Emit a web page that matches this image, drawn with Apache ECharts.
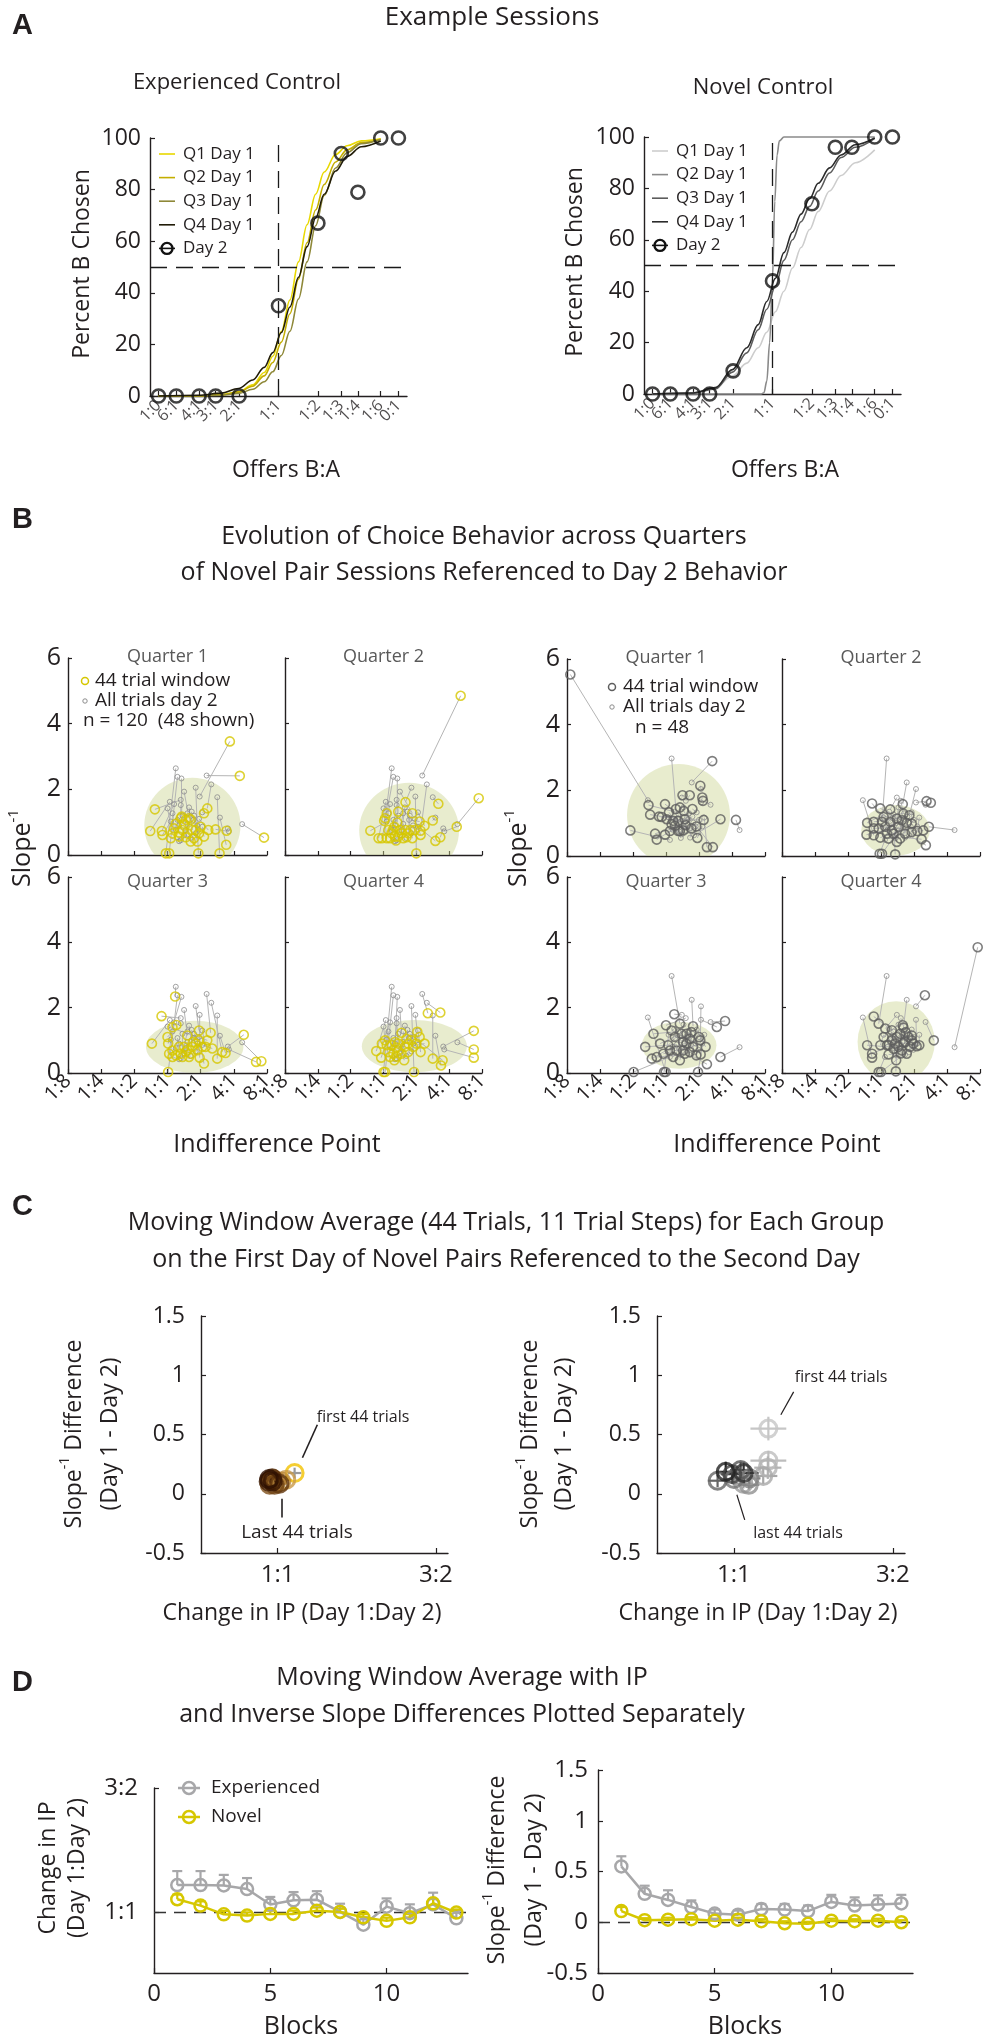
<!DOCTYPE html>
<html>
<head>
<meta charset="utf-8">
<title>Choice behavior figure</title>
<script src="https://cdn.jsdelivr.net/npm/echarts@6.0.0/dist/echarts.min.js"></script>
<style>
html,body{margin:0;padding:0;background:#fff;}
#chart{width:995px;height:2040px;}
</style>
</head>
<body>
<div id="chart"></div>
<script>
// ================= DATA =================
// ---- Panel A: example sessions ----
const offerLabels = ['1:0','6:1','4:1','3:1','2:1','1:1','1:2','1:3','1:4','1:6','0:1'];
const offerPos = [-2.1,-1.79,-1.39,-1.1,-0.69,0,0.69,1.1,1.39,1.79,2.1];
const expDay2 = [0,0,0,0,0,35,67,94,79,100,100];
const novDay2 = [0,0,0,0,9,44,74,96,96,100,100];
const curveX = [-2.1,-1.4,-1.0,-0.7,-0.45,-0.25,-0.1,0.05,0.2,0.35,0.5,0.65,0.8,1.0,1.2,1.45,1.79];
const expQ1 = [0,0.1,0.5,1.6,4.3,9.1,15.4,25,37.2,52,66.4,78.2,86.8,93.6,97,98.9,99.7];
const expQ2 = [0,0.1,0.5,1.5,3.8,7.8,13,20.9,31.9,45.3,59.4,72.1,82,90.7,95.4,98.2,99.5];
const expQ3 = [0,0.1,0.3,1,2.6,5.5,9.4,15.7,25.1,37.6,52,66,77.7,88.4,94.3,97.8,99.4];
const expQ4 = [0,0.3,1.1,2.9,6.2,11.1,16.8,24.6,34.5,46,57.9,69,78.2,87.2,92.8,96.6,98.8];
const novQ1 = [0,0.5,2.5,7,12,18,24,32,40,49,57,64,71,79,85,90,95];
const novQ3 = [0,0.3,2,8.5,16,25,33,42,52,60,67,73,79,86,92,96,99.5];
const novQ4 = [0,0.4,2.5,9.5,18,27,36,45,55,63,70,76,82,88,93,97,99.6];
const novQ2X = [-2.1,-0.2,-0.15,-0.1,-0.05,0,0.04,0.08,0.12,0.2,1.79];
const novQ2 = [0,0,0.5,5,20,45,75,93,98.5,100,100];
const curveNames = ['Q1 Day 1','Q2 Day 1','Q3 Day 1','Q4 Day 1'];

// ---- Panel B: indifference point (log2) vs inverse slope ----
const ipTickVals = [-3,-2,-1,0,1,2,3];
const ipTickLabels = ['1:8','1:4','1:2','1:1','2:1','4:1','8:1'];
const day2Exp = [[0.25,2.64],[0.3,2.38],[0.42,2.33],[1.18,2.42],[1.32,2.15],[0.85,2.05],[0.97,1.78],[1.5,1.76],[0.4,1.68],[0.07,1.62],
 [0.2,1.55],[0.5,1.93],[1.58,1.14],[1.82,0.81],[2.25,0.94],[1.85,0.72],[0.73,1.32],[1.05,1.3],[0.1,1.02],[0.35,0.42],
 [0.4,0.45],[0.95,1.1],[0.6,1.27],[0.15,1.27],[0.4,1.52],[0.78,1.07],[0.55,0.76],[0.85,0.66],[1.05,0.86],[0.25,0.76],
 [0.7,0.52],[0.3,1.07],[0.0,1.42],[0.6,0.95],[0.45,1.2],[0.9,0.9],[0.65,1.45],[0.35,0.9],[0.8,1.2],[0.5,0.6]];
const winExpQ1 = [[-0.05,0.05],[0.05,0.05],[0.43,1.17],[2.18,2.41],[1.2,1.42],[0.93,0.05],[1.88,3.46],[1.57,0.05],[-0.38,1.39],[-0.52,0.73],
 [-0.17,0.73],[0.65,1.12],[1.77,0.31],[1.78,0.74],[2.91,0.53],[1.45,0.78],[0.7,1.07],[1.1,1.27],[-0.15,0.61],[0.35,0.56],
 [0.1,0.51],[1.23,0.76],[0.55,1.07],[0.2,0.81],[0.4,1.12],[1.0,0.86],[0.55,0.54],[0.9,0.41],[1.1,0.56],[0.25,0.95],
 [0.7,0.41],[0.35,0.68],[0.15,0.66],[0.6,0.66],[0.5,0.95],[0.95,0.66],[0.75,0.76],[0.45,0.76],[0.85,0.76],[0.8,0.51]];
const winExpQ2 = [[0.05,1.12],[0.1,1.27],[0.42,0.99],[2.35,4.85],[1.13,0.74],[0.67,1.61],[1.0,0.05],[1.67,1.56],[0.45,1.32],[-0.15,0.51],
 [-0.05,0.51],[0.88,1.27],[1.5,1.05],[1.73,0.54],[2.9,1.73],[2.23,0.86],[0.82,0.76],[1.25,0.89],[-0.4,0.74],[0.38,0.44],
 [0.2,0.51],[1.13,0.61],[0.5,0.76],[0.02,1.04],[0.28,0.76],[1.1,1.02],[0.6,0.51],[0.88,0.51],[1.58,0.43],[0.15,0.76],
 [0.7,0.54],[0.25,0.66],[0.1,0.51],[0.67,0.76],[0.33,0.86],[0.95,0.76],[0.55,0.66],[0.35,0.56],[0.75,0.66],[0.45,0.56]];
const winExpQ3 = [[0.23,2.34],[0.02,0.03],[0.15,1.4],[1.3,1.23],[1.65,0.64],[0.95,1.3],[0.97,0.47],[1.5,0.44],[-0.18,1.74],[-0.47,0.9],
 [0.02,0.9],[0.6,1.15],[1.75,0.61],[2.3,1.17],[2.83,0.36],[2.67,0.34],[0.77,0.95],[1.15,0.8],[0.05,0.59],[0.15,0.49],
 [0.25,0.54],[1.1,0.29],[0.5,0.8],[0.0,1.1],[0.27,1.47],[0.85,0.9],[0.4,0.59],[0.9,0.7],[1.35,0.75],[0.15,0.69],
 [0.65,0.49],[0.35,0.8],[1.2,1.0],[0.55,0.64],[0.45,0.49],[1.05,0.8],[0.75,0.8],[0.7,0.59],[0.95,1.0],[0.6,0.7]];
const winExpQ4 = [[0.0,0.03],[0.05,0.03],[0.33,0.39],[1.35,1.83],[1.73,1.85],[0.93,0.03],[1.03,1.26],[1.5,0.44],[0.45,0.69],[-0.22,0.67],
 [-0.05,0.9],[0.55,1.23],[1.75,0.23],[2.75,1.29],[2.75,0.72],[2.75,0.47],[0.75,0.9],[1.13,0.64],[-0.07,0.47],[0.2,0.49],
 [0.3,0.59],[1.1,1.1],[0.65,0.8],[0.1,0.85],[0.35,0.95],[0.85,1.0],[0.63,0.39],[0.9,0.8],[1.25,0.9],[0.15,0.64],
 [0.75,0.64],[0.25,0.85],[0.05,1.0],[0.55,0.59],[0.45,0.9],[1.0,0.9],[0.7,1.05],[0.4,0.78],[1.8,0.39],[0.4,0.5]];
const day2Nov = [[0.17,2.97],[0.78,2.24],[1.06,2.04],[0.48,1.78],[0.6,1.68],[1.06,1.63],[1.35,1.56],[1.16,1.17],[2.23,0.79],[0.53,1.48],
 [0.93,1.33],[0.38,1.27],[0.68,1.12],[0.83,1.02],[0.33,0.87],[0.63,0.76],[0.48,0.66],[0.73,0.56],[0.98,0.71],[0.28,1.07],
 [0.08,1.17],[0.85,0.63],[0.12,0.49],[0.45,1.0],[0.55,0.9],[0.7,1.3],[0.25,1.35],[0.9,0.9],[0.4,0.75],[0.6,1.05],
 [0.2,0.8],[0.75,0.85],[1.0,1.1],[0.35,1.15],[0.5,1.2],[0.65,0.95],[0.8,1.2],[-0.55,1.7],[0.45,0.55],[1.1,0.9]];
const winNovQ1 = [[0.3,1.43],[1.4,2.89],[1.04,2.14],[0.5,1.85],[0.72,1.85],[1.1,1.78],[1.12,1.68],[1.24,0.27],[2.12,1.1],[0.42,1.48],
 [0.8,1.43],[-0.03,1.58],[0.54,1.37],[1.42,0.27],[-0.33,0.68],[0.6,0.94],[0.42,0.76],[0.77,0.84],[1.65,1.12],[0.09,1.33],
 [-0.48,1.26],[0.92,0.9],[-1.08,0.78],[0.37,1.07],[0.52,0.78],[0.57,1.12],[-0.53,1.55],[1.14,1.1],[0.12,0.76],[0.22,1.07],
 [-0.28,0.5],[0.27,0.92],[0.02,1.12],[-0.21,1.2],[-0.13,1.19],[0.37,0.76],[-0.03,0.65],[-2.9,5.53],[0.17,0.97],[0.95,0.55]];
const winNovQ2 = [[0.03,1.04],[0.66,1.58],[0.86,1.24],[0.28,1.42],[0.68,1.29],[1.38,1.67],[1.51,1.62],[1.1,0.76],[1.45,0.89],[0.48,1.14],
 [0.93,0.99],[-0.02,1.45],[0.63,1.09],[0.78,1.01],[-0.22,0.84],[0.53,0.89],[0.48,0.43],[1.23,0.51],[1.28,0.78],[0.28,1.04],
 [-0.27,1.6],[1.36,0.33],[-0.04,0.07],[0.33,0.78],[0.38,0.68],[0.08,1.19],[-0.42,1.01],[0.93,0.73],[0.43,0.05],[0.13,0.89],
 [-0.44,0.65],[0.73,0.68],[0.58,0.53],[-0.07,0.84],[0.18,0.68],[0.03,0.07],[-0.22,1.04],[-0.22,0.63],[0.23,0.53],[-0.02,0.56]];
const winNovQ3 = [[0.42,1.51],[0.82,1.43],[1.04,1.0],[0.25,1.8],[0.0,1.46],[1.54,1.41],[1.79,1.59],[0.97,0.03],[1.65,0.49],[0.47,1.2],
 [1.2,0.8],[-0.38,1.2],[0.62,0.9],[1.05,0.57],[-0.63,0.8],[0.72,0.64],[0.42,0.39],[1.24,0.27],[0.92,0.54],[0.07,0.85],
 [-0.06,0.03],[0.82,0.8],[-0.98,0.03],[0.52,0.95],[0.52,0.69],[0.77,1.25],[0.17,1.3],[0.72,1.05],[0.22,0.49],[0.27,1.1],
 [-0.43,0.44],[0.57,0.59],[1.0,1.1],[-0.18,0.9],[0.32,0.69],[0.12,0.69],[0.62,1.2],[-0.01,0.03],[-0.28,0.49],[-0.08,0.59]];
const winNovQ4 = [[-0.07,1.51],[0.68,1.39],[1.33,2.38],[0.13,1.36],[0.66,1.46],[1.08,0.82],[1.6,1.0],[1.16,0.85],[2.93,3.85],[0.33,1.31],
 [0.93,1.0],[-0.22,1.73],[0.58,1.2],[0.83,1.1],[-0.27,0.59],[0.63,0.69],[0.45,0.05],[0.78,0.59],[0.98,0.9],[0.18,0.85],
 [-0.02,0.85],[0.88,0.8],[-0.07,0.03],[0.43,0.9],[0.53,0.8],[0.73,0.95],[0.08,1.1],[0.68,0.92],[0.46,0.39],[0.48,1.1],
 [-0.42,0.85],[0.38,0.74],[0.93,1.15],[0.33,1.0],[0.23,0.85],[0.6,0.6],[0.75,1.25],[-0.27,0.47],[0.23,0.57],[0.0,0.03]];
// day-2 spread ellipses: [centerIP, centerSlope, radiusIP, radiusSlope]
const ellExp = [[0.75,0.9,1.45,1.45],[0.78,0.75,1.52,1.45],[0.82,0.8,1.47,0.8],[0.94,0.82,1.6,0.8]];
const ellNov = [[0.38,1.24,1.56,1.56],[0.44,0.78,1.04,0.77],[0.4,0.85,1.13,0.72],[0.46,0.95,1.17,1.25]];

// ---- Panel C (left group, moving window) ----
const cNovIp = [0.063,0.032,0.014,-0.004,-0.016,-0.026,-0.029,-0.011,0.007,-0.02,-0.033,-0.018,-0.031];
const cNovSlope = [0.175,0.118,0.104,0.104,0.124,0.112,0.076,0.076,0.085,0.13,0.104,0.104,0.124];
const cNovIpErr = [0.025,0.02,0.02,0.02,0.02,0.02,0.02,0.02,0.02,0.02,0.02,0.02,0.02];
const cNovSlopeErr = [0.045,0.04,0.04,0.04,0.04,0.04,0.04,0.04,0.04,0.04,0.04,0.04,0.04];

// ---- Panel D (and C right): per-block moving window averages ----
const blocks = [1,2,3,4,5,6,7,8,9,10,11,12,13];
const ipExp = [0.127,0.127,0.125,0.108,0.035,0.055,0.058,0.0,-0.06,0.025,-0.006,0.036,-0.03];
const ipExpErr = [0.066,0.066,0.05,0.052,0.036,0.039,0.04,0.039,0.035,0.039,0.042,0.055,0.036];
const ipNov = [0.06,0.03,-0.011,-0.017,-0.009,-0.009,0.006,0.0,-0.025,-0.042,-0.025,0.041,-0.003];
const ipNovErr = [0.022,0.02,0.015,0.015,0.015,0.015,0.015,0.015,0.015,0.015,0.015,0.02,0.015];
const slExp = [0.55,0.28,0.22,0.15,0.085,0.075,0.13,0.125,0.11,0.2,0.165,0.175,0.185];
const slExpErr = [0.1,0.08,0.095,0.065,0.04,0.04,0.05,0.055,0.055,0.07,0.08,0.09,0.085];
const slNov = [0.11,0.02,0.025,0.03,0.015,0.025,0.01,-0.01,-0.015,0.015,0.01,0.015,0.0];
const slNovErr = [0.04,0.02,0.02,0.02,0.02,0.02,0.02,0.02,0.02,0.02,0.02,0.02,0.02];
const ipRatioTicks = [0, 0.585];
const ipRatioLabels = ['1:1','3:2'];

// ================= STYLE / BUILD =================
const FONT = '"Open Sans", Lato, sans-serif';
const INK = '#231f20';
const expCurveColors = ['#e8d800','#c4ae00','#8e8838','#211c08'];
const novCurveColors = ['#cdcdcd','#8a8a8a','#5c5c5c','#2b2b2b'];
const YEL = '#d6c700';
const GRY = '#a7a7a9';
const cNovColors = ['#f2c200','#c99a4a','#bb8a3c','#ad7b32','#9e6c29','#8f5e21','#80501a','#714314','#62370e','#532b09','#452105','#381703','#2c0f01'];
const cExpColors = ['#c6c6c6','#bdbdbd','#b3b3b3','#a8a8a8','#9c9c9c','#909090','#838383','#767676','#666666','#555555','#444444','#333333','#222222'];

const grid = [], xAxis = [], yAxis = [], series = [], graphic = [];

function lab(vals, labels) {
  return function (v) {
    let b = 0;
    for (let i = 1; i < vals.length; i++) if (Math.abs(vals[i] - v) < Math.abs(vals[b] - v)) b = i;
    return labels[b];
  };
}
function mkAxis(o) {
  const a = {
    type: 'value', gridIndex: o.gi, min: o.min, max: o.max,
    axisLine: {show: true, onZero: false, lineStyle: {color: INK, width: 1.4}},
    axisTick: {show: true, inside: true, length: o.tickLen || 5, lineStyle: {color: INK, width: 1.2}},
    splitLine: {show: false},
    axisLabel: {show: o.showLabel !== false, color: INK, fontFamily: FONT, fontSize: o.fontSize || 23,
      margin: o.margin || 8, rotate: o.rotate || 0, hideOverlap: false,
      showMinLabel: true, showMaxLabel: o.showMax !== false}
  };
  if (o.interval != null) a.interval = o.interval;
  if (o.customValues) { a.axisTick.customValues = o.customValues; a.axisLabel.customValues = o.customValues; }
  if (o.formatter) a.axisLabel.formatter = o.formatter;
  return a;
}
function addGrid(box, xo, yo) {
  const gi = grid.length;
  grid.push({left: box[0], top: box[1], width: box[2], height: box[3], containLabel: false, outerBoundsMode: 'none'});
  xo.gi = gi; yo.gi = gi;
  xAxis.push(mkAxis(xo)); yAxis.push(mkAxis(yo));
  return gi;
}
function txt(x, y, text, size, o) {
  o = o || {};
  const al = o.align || 'center';
  return {type: 'text', x: x, y: y, rotation: o.rot || 0, silent: true, z: 50,
    style: {text: text, fill: o.color || INK, font: (o.weight || 'normal') + ' ' + size + 'px ' + (o.family || FONT),
      textAlign: al, align: al, textVerticalAlign: 'middle', verticalAlign: 'middle'}};
}
function supTxt(x, y, before, after, size, rot) {
  return {type: 'text', x: x, y: y, rotation: rot || 0, silent: true, z: 50,
    style: {text: '{m|' + before + '}{s|-1}{m|' + after + '}', align: 'center', textAlign: 'center',
      verticalAlign: 'middle', textVerticalAlign: 'middle',
      rich: {m: {fontSize: size, fontFamily: FONT, fill: INK, lineHeight: size + 8},
             s: {fontSize: Math.round(size * 0.6), fontFamily: FONT, fill: INK, verticalAlign: 'top', lineHeight: Math.round(size * 0.6)}}}};
}
function line(x1, y1, x2, y2, color, w) {
  return {type: 'line', silent: true, z: 50, shape: {x1: x1, y1: y1, x2: x2, y2: y2}, style: {stroke: color, lineWidth: w}};
}
function ring(cx, cy, r, color, w) {
  return {type: 'circle', silent: true, z: 51, shape: {cx: cx, cy: cy, r: r}, style: {fill: 'none', stroke: color, lineWidth: w}};
}

// ---------- Panel A ----------
function panelA(box, curves, day2, colors) {
  const gi = addGrid(box,
    {min: -2.25, max: 2.25, customValues: offerPos, showLabel: false},
    {min: 0, max: 100, interval: 20, fontSize: 23, margin: 9});
  // offer-ratio tick labels, anchored at each tick on the x axis
  series.push({type: 'scatter', xAxisIndex: gi, yAxisIndex: gi, silent: true, clip: false, z: 5,
    symbol: 'circle', symbolSize: 0,
    data: offerPos.map(function (x) { return [x, 0]; }),
    label: {show: true, position: 'bottom', distance: 7, rotate: 45, align: 'right', verticalAlign: 'middle',
      fontSize: 16, fontFamily: FONT, color: INK,
      formatter: function (p) { return offerLabels[p.dataIndex]; }},
    labelLayout: {hideOverlap: false}});
  curves.forEach(function (c, k) {
    series.push({type: 'line', name: curveNames[k], xAxisIndex: gi, yAxisIndex: gi,
      data: c.x.map(function (x, i) { return [x, c.y[i]]; }),
      symbol: 'none', smooth: 0.35, smoothMonotone: 'x', clip: false, z: 2, emphasis: {disabled: true},
      lineStyle: {color: colors[k], width: 1.6}});
  });
  series.push({type: 'scatter', name: 'Day 2', xAxisIndex: gi, yAxisIndex: gi,
    data: offerPos.map(function (x, i) { return [x, day2[i]]; }),
    symbol: 'circle', symbolSize: 13, clip: false, z: 4, emphasis: {disabled: true},
    itemStyle: {color: 'rgba(0,0,0,0)', borderColor: '#111', borderWidth: 2.6},
    markLine: {silent: true, symbol: 'none', label: {show: false}, animation: false,
      lineStyle: {type: [17, 9], color: '#1a1a1a', width: 1.3},
      data: [{yAxis: 50}, [{coord: [0, 0]}, {coord: [0, 100]}]]}});
}
panelA([150, 138, 257, 258], [
  {x: curveX, y: expQ1}, {x: curveX, y: expQ2}, {x: curveX, y: expQ3}, {x: curveX, y: expQ4}], expDay2, expCurveColors);
panelA([644, 137, 257, 257], [
  {x: curveX, y: novQ1}, {x: novQ2X, y: novQ2}, {x: curveX, y: novQ3}, {x: curveX, y: novQ4}], novDay2, novCurveColors);

// ---------- Panel B ----------
function ellRender(params, api) {
  const c = api.coord([api.value(0), api.value(1)]);
  const s = api.size([api.value(2), api.value(3)]);
  return {type: 'circle', x: c[0], y: c[1], scaleY: s[1] / s[0], shape: {cx: 0, cy: 0, r: s[0]},
    style: {fill: 'rgba(203,212,146,0.45)'}};
}
function linkRender(params, api) {
  const a = api.coord([api.value(0), api.value(1)]);
  const b = api.coord([api.value(2), api.value(3)]);
  return {type: 'line', shape: {x1: a[0], y1: a[1], x2: b[0], y2: b[1]}, style: {stroke: '#b5b5b5', lineWidth: 1}};
}
function panelB(box, showX, showY, ell, win, day2, winColor) {
  const gi = addGrid(box,
    {min: -3, max: 3, interval: 1, showLabel: showX, formatter: lab(ipTickVals, ipTickLabels), rotate: 45, fontSize: 20, margin: 5, tickLen: 4},
    {min: 0, max: 6, interval: 2, showLabel: showY, fontSize: 25, margin: 7, tickLen: 4});
  series.push({type: 'custom', xAxisIndex: gi, yAxisIndex: gi, clip: true, z: 1, silent: true,
    data: [ell], encode: {x: 0, y: 1}, renderItem: ellRender});
  series.push({type: 'custom', xAxisIndex: gi, yAxisIndex: gi, clip: false, z: 2, silent: true,
    data: win.map(function (w, i) { return [w[0], w[1], day2[i][0], day2[i][1]]; }),
    encode: {x: [0, 2], y: [1, 3]}, renderItem: linkRender});
  series.push({type: 'scatter', xAxisIndex: gi, yAxisIndex: gi, data: day2, symbol: 'circle', symbolSize: 5,
    clip: false, z: 3, silent: true, itemStyle: {color: 'rgba(0,0,0,0)', borderColor: '#8c8c8c', borderWidth: 1}});
  series.push({type: 'scatter', xAxisIndex: gi, yAxisIndex: gi, data: win, symbol: 'circle', symbolSize: 9,
    clip: false, z: 4, silent: true, itemStyle: {color: 'rgba(0,0,0,0)', borderColor: winColor, borderWidth: 1.6}});
}
panelB([68, 658, 199, 197], false, true, ellExp[0], winExpQ1, day2Exp, YEL);
panelB([285, 658, 197, 197], false, false, ellExp[1], winExpQ2, day2Exp, YEL);
panelB([68, 877, 199, 196], true, true, ellExp[2], winExpQ3, day2Exp, YEL);
panelB([285, 877, 197, 196], true, false, ellExp[3], winExpQ4, day2Exp, YEL);
panelB([567, 659, 198, 197], false, true, ellNov[0], winNovQ1, day2Nov, '#5e5e5e');
panelB([782, 659, 198, 197], false, false, ellNov[1], winNovQ2, day2Nov, '#5e5e5e');
panelB([567, 877, 198, 196], true, true, ellNov[2], winNovQ3, day2Nov, '#5e5e5e');
panelB([782, 877, 198, 196], true, false, ellNov[3], winNovQ4, day2Nov, '#5e5e5e');

// ---------- Panel C ----------
function crossRender(colors) {
  return function (params, api) {
    const x = api.value(0), y = api.value(1), ex = api.value(2), ey = api.value(3);
    const l = api.coord([x - ex, y]), r = api.coord([x + ex, y]);
    const t = api.coord([x, y + ey]), b = api.coord([x, y - ey]);
    const col = colors[params.dataIndex];
    return {type: 'group', children: [
      {type: 'line', shape: {x1: l[0], y1: l[1], x2: r[0], y2: r[1]}, style: {stroke: col, lineWidth: 2.2}},
      {type: 'line', shape: {x1: t[0], y1: t[1], x2: b[0], y2: b[1]}, style: {stroke: col, lineWidth: 2.2}}]};
  };
}
function panelC(box, ipArr, slArr, ipErr, slErr, colors, errColors, pointers, pw) {
  const gi = addGrid(box,
    {min: -0.283, max: 0.63, customValues: ipRatioTicks, formatter: lab(ipRatioTicks, ipRatioLabels), fontSize: 24, margin: 10},
    {min: -0.5, max: 1.5, interval: 0.5, fontSize: 23, margin: 16});
  series.push({type: 'custom', xAxisIndex: gi, yAxisIndex: gi, clip: false, z: 2, silent: true,
    data: ipArr.map(function (x, i) { return [x, slArr[i], ipErr[i], slErr[i]]; }),
    encode: {x: 0, y: 1}, renderItem: crossRender(errColors)});
  series.push({type: 'scatter', xAxisIndex: gi, yAxisIndex: gi, clip: false, z: 3, silent: true,
    symbol: 'circle', symbolSize: 17,
    data: ipArr.map(function (x, i) { return {value: [x, slArr[i]], itemStyle: {borderColor: colors[i]}}; }),
    itemStyle: {color: 'rgba(0,0,0,0)', borderWidth: 3},
    markLine: {silent: true, symbol: 'none', label: {show: false}, animation: false,
      lineStyle: {type: 'solid', color: INK, width: pw},
      data: pointers.map(function (p) { return [{coord: p[0]}, {coord: p[1]}]; })}});
}
const cNovErrColors = cNovColors.map(function (c, i) { return i === 0 ? '#9a9a9a' : c; });
panelC([201, 1316, 247, 237], cNovIp, cNovSlope, cNovIpErr, cNovSlopeErr, cNovColors, cNovErrColors,
  [[[0.147, 0.582], [0.092, 0.304]], [[0.015, -0.042], [0.015, -0.2]]], 1.6);
panelC([657, 1316, 248, 237], ipExp, slExp, ipExpErr, slExpErr, cExpColors, cExpColors,
  [[[0.22, 0.86], [0.173, 0.666]], [[0.011, -0.008], [0.04, -0.22]]], 1.2);

// ---------- Panel D ----------
function errUp(gi, xs, ys, errs, color) {
  return {type: 'custom', xAxisIndex: gi, yAxisIndex: gi, clip: false, z: 3, silent: true,
    data: xs.map(function (x, i) { return [x, ys[i], errs[i]]; }),
    encode: {x: 0, y: 1},
    renderItem: function (params, api) {
      const a = api.coord([api.value(0), api.value(1)]);
      const b = api.coord([api.value(0), api.value(1) + api.value(2)]);
      return {type: 'group', children: [
        {type: 'line', shape: {x1: a[0], y1: a[1], x2: b[0], y2: b[1]}, style: {stroke: color, lineWidth: 2.2}},
        {type: 'line', shape: {x1: b[0] - 5, y1: b[1], x2: b[0] + 5, y2: b[1]}, style: {stroke: color, lineWidth: 2.2}}]};
    }};
}
function dLine(gi, xs, ys, color, name, dash) {
  const s = {type: 'line', name: name, xAxisIndex: gi, yAxisIndex: gi, clip: false, z: 4, silent: true,
    data: xs.map(function (x, i) { return [x, ys[i]]; }),
    symbol: 'circle', symbolSize: 12,
    itemStyle: {color: 'rgba(0,0,0,0)', borderColor: color, borderWidth: 2.5},
    lineStyle: {color: color, width: 2.5}};
  if (dash) s.markLine = {silent: true, symbol: 'none', label: {show: false}, animation: false, z: 1,
    lineStyle: {type: [12, 8], color: '#333', width: 1.4}, data: [{yAxis: 0}]};
  return s;
}
const dg1 = addGrid([154, 1788, 314, 185],
  {min: 0, max: 13.5, interval: 5, fontSize: 24, margin: 9, showMax: false},
  {min: -0.288, max: 0.585, customValues: ipRatioTicks, formatter: lab(ipRatioTicks, ipRatioLabels), fontSize: 24, margin: 16});
series.push(errUp(dg1, blocks, ipExp, ipExpErr, GRY));
series.push(errUp(dg1, blocks, ipNov, ipNovErr, YEL));
series.push(dLine(dg1, blocks, ipExp, GRY, 'Experienced', true));
series.push(dLine(dg1, blocks, ipNov, YEL, 'Novel', false));
const dg2 = addGrid([598, 1770, 315, 203],
  {min: 0, max: 13.5, interval: 5, fontSize: 24, margin: 9, showMax: false},
  {min: -0.5, max: 1.5, interval: 0.5, fontSize: 24, margin: 10});
series.push(errUp(dg2, blocks, slExp, slExpErr, GRY));
series.push(errUp(dg2, blocks, slNov, slNovErr, YEL));
series.push(dLine(dg2, blocks, slExp, GRY, 'Experienced', true));
series.push(dLine(dg2, blocks, slNov, YEL, 'Novel', false));

// ---------- Text, legends ----------
const BIG = {weight: 'bold', family: '"Liberation Sans", Arial, sans-serif', align: 'left'};
// A
graphic.push(txt(12, 26, 'A', 29, BIG));
graphic.push(txt(492, 18, 'Example Sessions', 26));
graphic.push(txt(237, 83, 'Experienced Control', 22));
graphic.push(txt(763, 88, 'Novel Control', 22));
graphic.push(txt(82, 264, 'Percent B Chosen', 23, {rot: Math.PI / 2}));
graphic.push(txt(575, 262, 'Percent B Chosen', 23, {rot: Math.PI / 2}));
graphic.push(txt(286, 470, 'Offers B:A', 23));
graphic.push(txt(785, 470, 'Offers B:A', 23));
function legendA(x0, y0, colors) {
  for (let k = 0; k < 4; k++) {
    const y = y0 + k * 23.6;
    graphic.push(line(x0, y, x0 + 16, y, colors[k], 1.6));
    graphic.push(txt(x0 + 24, y, curveNames[k], 17, {align: 'left'}));
  }
  const y = y0 + 4 * 23.6;
  graphic.push(line(x0, y, x0 + 16, y, '#111', 1.6));
  graphic.push(ring(x0 + 8, y, 5.5, '#111', 2.4));
  graphic.push(txt(x0 + 24, y, 'Day 2', 17, {align: 'left'}));
}
legendA(159, 154, expCurveColors);
legendA(652, 151, novCurveColors);
// B
graphic.push(txt(12, 520, 'B', 29, BIG));
graphic.push(txt(484, 537, 'Evolution of Choice Behavior across Quarters', 25));
graphic.push(txt(484, 573, 'of Novel Pair Sessions Referenced to Day 2 Behavior', 25));
[[167.5, 657, 'Quarter 1'], [383.5, 657, 'Quarter 2'], [167.5, 882, 'Quarter 3'], [383.5, 882, 'Quarter 4'],
 [666, 658, 'Quarter 1'], [881, 658, 'Quarter 2'], [666, 882, 'Quarter 3'], [881, 882, 'Quarter 4']].forEach(function (q) {
  graphic.push(txt(q[0], q[1], q[2], 18, {color: '#595959'}));
});
graphic.push(ring(85, 681, 3.5, YEL, 1.5));
graphic.push(txt(95, 681, '44 trial window', 19, {align: 'left'}));
graphic.push(ring(85, 701, 2.2, '#8c8c8c', 1));
graphic.push(txt(95, 701, 'All trials day 2', 19, {align: 'left'}));
graphic.push(txt(83, 721, 'n = 120  (48 shown)', 19, {align: 'left'}));
graphic.push(ring(612, 687, 3.5, '#5e5e5e', 1.5));
graphic.push(txt(623, 687, '44 trial window', 19, {align: 'left'}));
graphic.push(ring(612, 707, 2.2, '#8c8c8c', 1));
graphic.push(txt(623, 707, 'All trials day 2', 19, {align: 'left'}));
graphic.push(txt(635, 728, 'n = 48', 19, {align: 'left'}));
graphic.push(supTxt(23, 848, 'Slope', '', 25, Math.PI / 2));
graphic.push(supTxt(519, 848, 'Slope', '', 25, Math.PI / 2));
graphic.push(txt(277, 1145, 'Indifference Point', 25));
graphic.push(txt(777, 1145, 'Indifference Point', 25));
// C
graphic.push(txt(12, 1207, 'C', 29, BIG));
graphic.push(txt(506, 1223, 'Moving Window Average (44 Trials, 11 Trial Steps) for Each Group', 25));
graphic.push(txt(506, 1260, 'on the First Day of Novel Pairs Referenced to the Second Day', 25));
graphic.push(supTxt(74, 1434, 'Slope', ' Difference', 23, Math.PI / 2));
graphic.push(txt(110, 1434, '(Day 1 - Day 2)', 23, {rot: Math.PI / 2}));
graphic.push(supTxt(530, 1434, 'Slope', ' Difference', 23, Math.PI / 2));
graphic.push(txt(564, 1434, '(Day 1 - Day 2)', 23, {rot: Math.PI / 2}));
graphic.push(txt(302, 1613, 'Change in IP (Day 1:Day 2)', 23));
graphic.push(txt(758, 1613, 'Change in IP (Day 1:Day 2)', 23));
graphic.push(txt(363, 1417, 'first 44 trials', 16));
graphic.push(txt(297, 1533, 'Last 44 trials', 19));
graphic.push(txt(841, 1377, 'first 44 trials', 16));
graphic.push(txt(798, 1533, 'last 44 trials', 16));
// D
graphic.push(txt(12, 1683, 'D', 29, BIG));
graphic.push(txt(462, 1678, 'Moving Window Average with IP', 25));
graphic.push(txt(462, 1715, 'and Inverse Slope Differences Plotted Separately', 25));
graphic.push(txt(48, 1868, 'Change in IP', 23, {rot: Math.PI / 2}));
graphic.push(txt(77, 1868, '(Day 1:Day 2)', 23, {rot: Math.PI / 2}));
graphic.push(supTxt(497, 1870, 'Slope', ' Difference', 23, Math.PI / 2));
graphic.push(txt(534, 1870, '(Day 1 - Day 2)', 23, {rot: Math.PI / 2}));
graphic.push(txt(301, 2027, 'Blocks', 25));
graphic.push(txt(745, 2027, 'Blocks', 25));
graphic.push(line(178, 1788, 200, 1788, GRY, 2.5));
graphic.push(ring(189, 1788, 6, GRY, 2.5));
graphic.push(txt(211, 1788, 'Experienced', 19, {align: 'left'}));
graphic.push(line(178, 1817, 200, 1817, YEL, 2.5));
graphic.push(ring(189, 1817, 6, YEL, 2.5));
graphic.push(txt(211, 1817, 'Novel', 19, {align: 'left'}));

const chart = echarts.init(document.getElementById('chart'), null, {renderer: 'canvas', width: 995, height: 2040});
chart.setOption({
  backgroundColor: '#ffffff',
  animation: false,
  textStyle: {fontFamily: FONT},
  grid: grid, xAxis: xAxis, yAxis: yAxis, series: series, graphic: graphic
});
</script>
</body>
</html>
